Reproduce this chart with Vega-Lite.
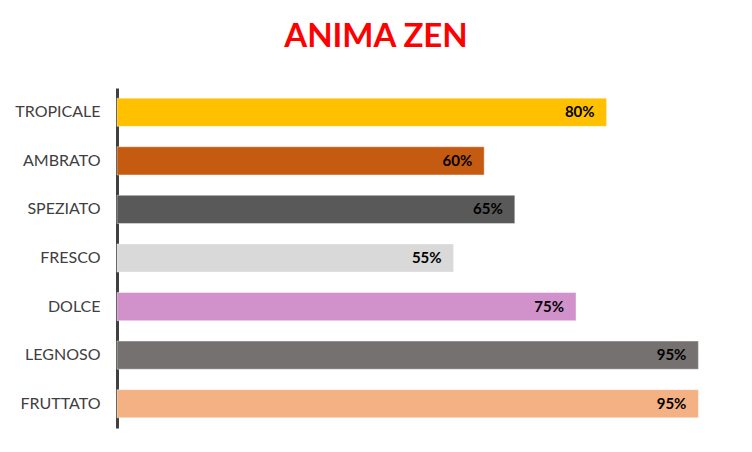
{
  "$schema": "https://vega.github.io/schema/vega-lite/v6.json",
  "autosize": "none",
  "padding": {"left": 117, "top": 88, "right": 23, "bottom": 24},
  "width": 612,
  "height": 340,
  "background": "#ffffff",
  "title": {
    "text": "ANIMA ZEN",
    "color": "#ff0000",
    "font": "Lato",
    "fontSize": 33,
    "fontWeight": "bold",
    "anchor": "middle",
    "dx": -47,
    "offset": 34
  },
  "data": {
    "values": [
      {"aroma": "TROPICALE", "valore": 0.80, "colore": "#FFC000"},
      {"aroma": "AMBRATO", "valore": 0.60, "colore": "#C55A11"},
      {"aroma": "SPEZIATO", "valore": 0.65, "colore": "#595959"},
      {"aroma": "FRESCO", "valore": 0.55, "colore": "#D9D9D9"},
      {"aroma": "DOLCE", "valore": 0.75, "colore": "#D192CB"},
      {"aroma": "LEGNOSO", "valore": 0.95, "colore": "#767171"},
      {"aroma": "FRUTTATO", "valore": 0.95, "colore": "#F4B183"}
    ]
  },
  "encoding": {
    "y": {
      "field": "aroma",
      "type": "nominal",
      "sort": null,
      "title": null,
      "scale": {"paddingInner": 0.42, "paddingOuter": 0.21},
      "axis": {
        "domainColor": "#404040",
        "domainWidth": 3,
        "ticks": false,
        "labelFont": "Lato",
        "labelFontSize": 16,
        "labelColor": "#404040",
        "labelPadding": 17
      }
    },
    "x": {
      "field": "valore",
      "type": "quantitative",
      "scale": {"domain": [0, 1]},
      "axis": null
    }
  },
  "layer": [
    {
      "mark": {"type": "bar", "stroke": "#ffffff", "strokeOpacity": 0.4, "strokeWidth": 1},
      "encoding": {
        "color": {"field": "colore", "type": "nominal", "scale": null, "legend": null}
      }
    },
    {
      "mark": {
        "type": "text",
        "align": "right",
        "dx": -12,
        "font": "Lato",
        "fontSize": 15,
        "fontWeight": "bold",
        "color": "#000000"
      },
      "encoding": {
        "text": {"field": "valore", "type": "quantitative", "format": ".0%"}
      }
    }
  ],
  "config": {"view": {"stroke": null}}
}
